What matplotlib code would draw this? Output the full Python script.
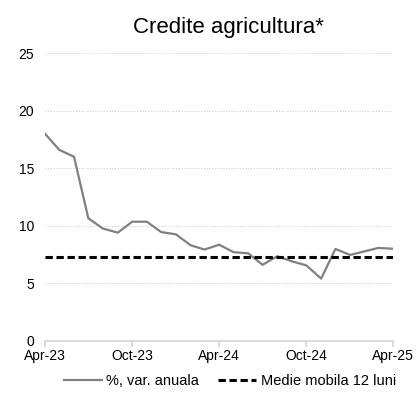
import numpy as np
import pandas as pd
import matplotlib
matplotlib.use("Agg")
import matplotlib.pyplot as plt

plt.rcParams['font.family'] = ['Liberation Sans', 'DejaVu Sans']

# lunile Apr-23 .. Apr-25
luni = pd.date_range("2023-04-01", periods=25, freq="MS")
var_anuala = [18.0, 16.6, 16.0, 10.65, 9.75, 9.4, 10.35, 10.35, 9.45, 9.25,
              8.3, 7.93, 8.35, 7.7, 7.6, 6.6, 7.35, 6.9, 6.55, 5.4,
              7.98, 7.46, 7.78, 8.07, 8.0]
medie_mobila = [7.26] * len(luni)

tick_luni = ["2023-04-01", "2023-10-01", "2024-04-01", "2024-10-01", "2025-04-01"]
tick_labels = ["Apr-23", "Oct-23", "Apr-24", "Oct-24", "Apr-25"]
y_ticks = [0, 5, 10, 15, 20, 25]

fig = plt.figure(figsize=(4.16, 4.01), dpi=100)
ax = fig.add_axes([45 / 416, 1 - 340.7 / 401, 348 / 416, 287.4 / 401])

ax.plot(luni, var_anuala, color="#808080", lw=1.6, label="%, var. anuala", zorder=3)
ax.plot(luni, medie_mobila, color="black", lw=2.2, ls=(0, (2.4, 1.2)),
        label="Medie mobila 12 luni", zorder=4)

ax.set_xlim(luni[0], luni[-1])
ax.set_ylim(0, 25)
ax.set_yticks(y_ticks)
ax.set_xticks(pd.to_datetime(tick_luni))
ax.set_xticklabels(tick_labels)

ax.grid(axis="y", color="#d0d0d0", ls=(0, (1, 1.5)), lw=0.8)
ax.set_axisbelow(True)
for s in ["top", "right", "left"]:
    ax.spines[s].set_visible(False)
ax.spines["bottom"].set_color("#d9d9d9")
ax.spines["bottom"].set_linewidth(1.3)
ax.tick_params(axis="x", length=4, width=1.3, color="#d9d9d9", labelsize=10, pad=2)
ax.tick_params(axis="y", length=0, labelsize=10, pad=8)

fig.text(228 / 416, 1 - 33 / 401, "Credite agricultura*", fontsize=16,
         ha="center", va="baseline")

fig.legend(loc="center", bbox_to_anchor=(230 / 416, 1 - 381 / 401), ncol=2,
           frameon=False, fontsize=10.5, handlelength=2.6, handletextpad=0.33,
           columnspacing=1.3)

fig.savefig("out.png", dpi=100)
